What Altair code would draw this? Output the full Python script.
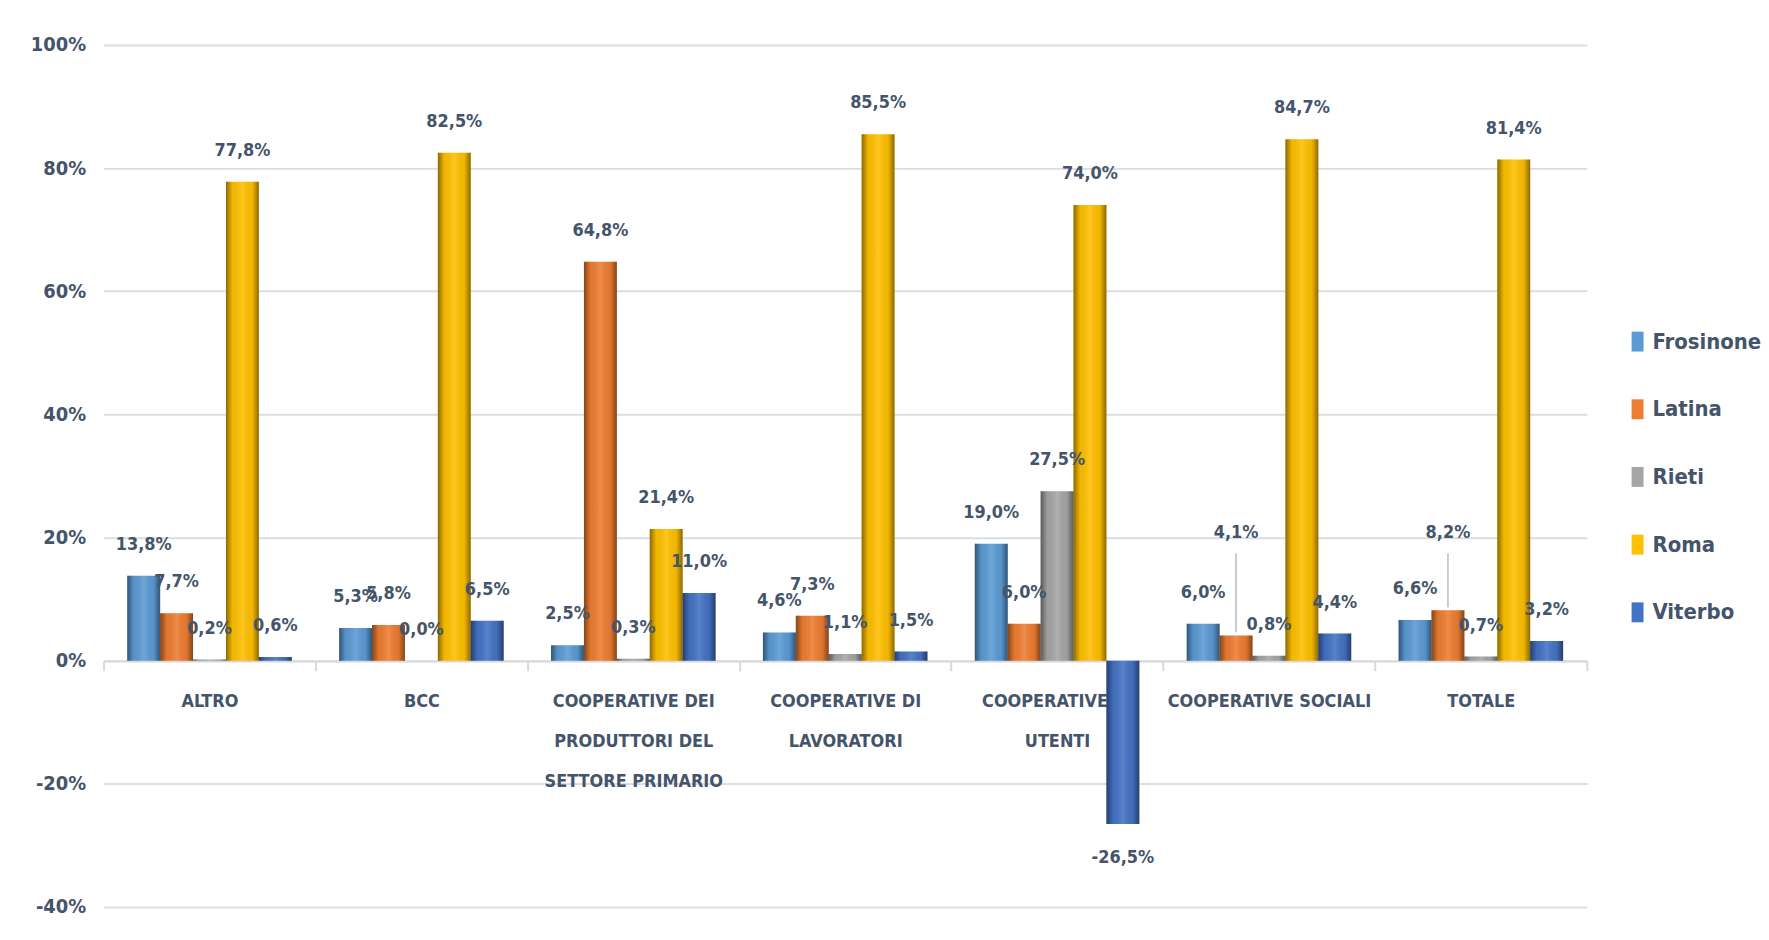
import altair as alt
import pandas as pd

categories = ["ALTRO", "BCC", "COOPERATIVE DEI\nPRODUTTORI DEL\nSETTORE PRIMARIO",
              "COOPERATIVE DI\nLAVORATORI", "COOPERATIVE DI\nUTENTI",
              "COOPERATIVE SOCIALI", "TOTALE"]
series = ["Frosinone", "Latina", "Rieti", "Roma", "Viterbo"]
frosinone = [13.8, 5.3, 2.5, 4.6, 19.0, 6.0, 6.6]
latina = [7.7, 5.8, 64.8, 7.3, 6.0, 4.1, 8.2]
rieti = [0.2, 0.0, 0.3, 1.1, 27.5, 0.8, 0.7]
roma = [77.8, 82.5, 21.4, 85.5, 74.0, 84.7, 81.4]
viterbo = [0.6, 6.5, 11.0, 1.5, -26.5, 4.4, 3.2]
colors = ["#5b9bd5", "#ed7d31", "#a5a5a5", "#ffc000", "#4472c4"]
y_ticks = [-40, -20, 0, 20, 40, 60, 80, 100]
# labels that the original lifts up with a leader line
leader_points = [("COOPERATIVE SOCIALI", "Latina"), ("TOTALE", "Latina")]
LEADER_LEVEL = 20.7

rows = []
for s, vals in zip(series, [frosinone, latina, rieti, roma, viterbo]):
    for c, v in zip(categories, vals):
        rows.append({"cat": c, "serie": s, "value": v,
                     "label": f"{v:.1f}".replace(".", ",") + "%",
                     "leader": (c, s) in leader_points,
                     "lvl": LEADER_LEVEL})
df = pd.DataFrame(rows)

FONT = "Liberation Sans Narrow, DejaVu Sans Condensed, Roboto, sans-serif"
TXT = "#44546a"
W, H = 1490, 866
YMIN, YMAX = -40, 100
zero_off = -H * (0 - YMIN) / (YMAX - YMIN)

x_enc = alt.X("cat:N", sort=categories,
              scale=alt.Scale(paddingInner=0, paddingOuter=0),
              axis=alt.Axis(title=None, orient="bottom", offset=zero_off,
                            labelAngle=0,
                            labelExpr="datum.value ? split(datum.value, '\\n') : ''",
                            labelFont=FONT, labelFontSize=18, labelFontWeight="bold",
                            labelColor=TXT, labelLineHeight=40, labelBaseline="top",
                            labelPadding=22, labelLimit=400, labelOverlap=False,
                            domainColor="#d9d9d9", domainWidth=2,
                            tickColor="#d9d9d9", tickWidth=2, tickSize=10,
                            tickBand="extent", grid=False))
xo_enc = alt.XOffset("serie:N", sort=series,
                     scale=alt.Scale(paddingInner=0, paddingOuter=0.72))
y_enc = alt.Y("value:Q", scale=alt.Scale(domain=[YMIN, YMAX], nice=False),
              axis=alt.Axis(title=None, values=y_ticks, labelExpr="datum.value + '%'",
                            labelFont=FONT, labelFontSize=20, labelFontWeight="bold",
                            labelColor=TXT, labelPadding=18, domain=False, ticks=False,
                            gridColor="#d9dde6", gridWidth=2))

base = alt.Chart(df).encode(x=x_enc, xOffset=xo_enc)

bars = base.mark_bar().encode(
    y=y_enc,
    color=alt.Color("serie:N", sort=series,
                    scale=alt.Scale(domain=series, range=colors),
                    legend=alt.Legend(title=None, orient="none", legendX=1530, legendY=287,
                                      symbolType="M-0.6,-1H0.6V1H-0.6Z",
                                      symbolSize=400, symbolStrokeWidth=0,
                                      labelFont=FONT, labelFontSize=22,
                                      labelFontWeight="bold", labelColor=TXT,
                                      rowPadding=46, labelOffset=4)),
)

shade = base.mark_bar(fill=alt.Gradient(
    gradient="linear", x1=0, x2=1, y1=0, y2=0,
    stops=[alt.GradientStop(color="rgba(0,0,0,0.45)", offset=0),
           alt.GradientStop(color="rgba(0,0,0,0.05)", offset=0.2),
           alt.GradientStop(color="rgba(255,255,255,0.12)", offset=0.5),
           alt.GradientStop(color="rgba(0,0,0,0.05)", offset=0.8),
           alt.GradientStop(color="rgba(0,0,0,0.45)", offset=1)])).encode(y="value:Q")

pos_text = base.transform_filter("datum.value >= 0 && !datum.leader").mark_text(
    baseline="middle", dy=-31, font=FONT, fontSize=18, fontWeight="bold", color=TXT
).encode(y="value:Q", text="label:N")

neg_text = base.transform_filter("datum.value < 0").mark_text(
    baseline="middle", dy=34, font=FONT, fontSize=18, fontWeight="bold", color=TXT
).encode(y="value:Q", text="label:N")

lead_text = base.transform_filter("datum.leader").mark_text(
    baseline="middle", font=FONT, fontSize=18, fontWeight="bold", color=TXT
).encode(y="lvl:Q", text="label:N")

lead_rule = base.transform_filter("datum.leader").mark_rule(
    color="#b4bdca", strokeWidth=1.5, yOffset=-3, y2Offset=20
).encode(y="value:Q", y2="lvl:Q")

chart = alt.layer(bars, shade, lead_rule, pos_text, neg_text, lead_text).properties(
    width=W, height=H,
    autosize=alt.AutoSizeParams(type="none"),
    padding={"left": 96, "top": 35, "right": 175, "bottom": 23},
).configure(background="white").configure_view(stroke=None)

chart.save("out.html", embed_options={"renderer": "svg", "actions": False})
